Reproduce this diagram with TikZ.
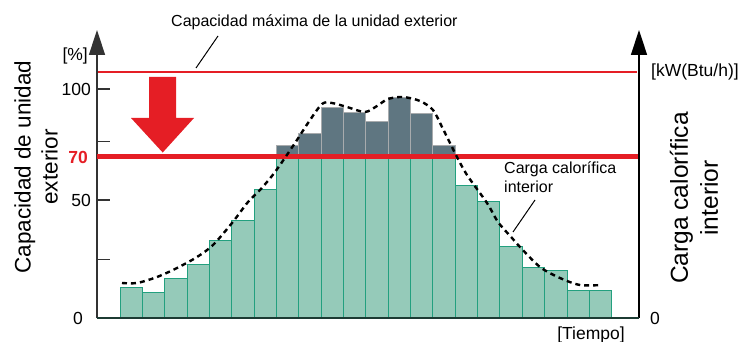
\documentclass[tikz,border=0pt]{standalone}
\usepackage{fontspec}
\setmainfont{Liberation Sans}
\usetikzlibrary{arrows.meta}
\definecolor{barg}{HTML}{95CAB9}
\definecolor{bare}{HTML}{23A07F}
\definecolor{grayb}{HTML}{5F7681}
\definecolor{graye}{HTML}{A8ABAD}
\definecolor{redl}{HTML}{E51E25}
\definecolor{axisd}{HTML}{333333}
\definecolor{baseaxis}{HTML}{1C3B33}
\begin{document}
\begin{tikzpicture}[x=1pt,y=-1pt,
  greenbar/.style={fill=barg,draw=bare,line width=1pt},
  graybar/.style={fill=grayb,draw=graye,line width=1pt},
  axisline/.style={line width=1.5pt},
  tickline/.style={line width=1.5pt,draw=axisd},
  small/.style={font=\fontsize{16}{19}\selectfont},
  ticklbl/.style={font=\fontsize{17.5}{20}\selectfont},
  leader/.style={line width=1pt,draw=black},
  curve/.style={line width=2.4pt,dash pattern=on 5pt off 4pt}]
\useasboundingbox (0,0) rectangle (744,342);
% bars
\foreach \t [count=\i from 0] in {287.7,292.7,278,264.7,240.7,220.7,189,145.7,133.3,107.3,112.7,122,97.7,114,145.7,185.3,201.7,246.7,267.3,270,290,290}{
  \pgfmathsetmacro{\xl}{120+\i*22.35}
  \pgfmathsetmacro{\xr}{120+(\i+1)*22.35}
  \pgfmathparse{\t<156 ? 1 : 0}
  \ifnum\pgfmathresult=1
    \draw[greenbar] (\xl,318) rectangle (\xr,156);
    \draw[graybar] (\xl,156) rectangle (\xr,\t);
  \else
    \draw[greenbar] (\xl,318) rectangle (\xr,\t);
  \fi
}
% axes
\coordinate (o) at (97,318);
\coordinate (ytop) at (97,30);
\coordinate (r0) at (639,318);
\coordinate (rtop) at (639,30);
\draw[axisline,draw=axisd,-{Triangle[length=25pt,width=16pt]}] (o) -- (ytop);
\draw[axisline,draw=black,-{Triangle[length=25pt,width=16pt]}] (r0) -- (rtop);
\draw[line width=2pt,draw=baseaxis] (o) -- (r0);
% ticks
\foreach \yy in {89,141.7,200,259.3}{
  \draw[tickline] (97,\yy) -- (110,\yy);
}
% red lines
\coordinate (maxl) at (98,70.7);
\coordinate (maxr) at (637,72.7);
\fill[fill=redl] (maxl) rectangle (maxr);
\coordinate (l70) at (97,156);
\coordinate (r70) at (638,156);
\draw[draw=redl,line width=5pt] (l70) -- (r70);
% big arrow
\fill[fill=redl] (149,77) -- (176,77) -- (176,118) -- (194,118) -- (162.7,152.5) -- (131,118) -- (149,118) -- cycle;
% dashed curve
\draw[curve] plot[smooth,tension=0.5] coordinates {(122,283) (137,283) (157,277) (177,268) (197,257) (213,245) (232,223) (248,202) (260,190) (275,172) (295,143) (308,123) (322,104) (332,103) (347,107) (365,112) (377,106) (388,99) (403,97) (420,101) (433,110) (442,127) (450,143) (457,157) (467,175) (487,203) (498,222) (512,238) (520,247) (540,267) (560,278) (580,285) (602,285)};
% labels
\node[small,anchor=base west,inner sep=0] (maxcap) at (171,27) {Capacidad máxima de la unidad exterior};
\coordinate (maxa) at (218,36);
\coordinate (maxb) at (196,68);
\draw[leader] (maxa) -- (maxb);
\node[small,anchor=north west,align=left,inner sep=0] (carga) at (504,162) {Carga calorífica\\interior};
\coordinate (ca) at (535,200);
\coordinate (cb) at (513,232);
\draw[leader] (ca) -- (cb);
\node[ticklbl,anchor=east,inner sep=0] (pct) at (88,56) {[\%]};
\node[ticklbl,anchor=east,inner sep=0] (t100) at (91,89) {100};
\node[ticklbl,anchor=east,inner sep=0] (t50) at (91,200) {50};
\node[ticklbl,anchor=east,inner sep=0] (t0) at (83,318) {0};
\node[ticklbl,anchor=east,inner sep=0,text=redl,font=\fontsize{17.5}{20}\selectfont\bfseries] (t70) at (88,157) {70};
\node[ticklbl,anchor=west,inner sep=0] (kw) at (651,72) {[kW(Btu/h)]};
\node[ticklbl,anchor=west,inner sep=0] (r0lbl) at (650,318) {0};
\node[ticklbl,inner sep=0] (tiempo) at (591,335) {[Tiempo]};
\node[inner sep=0,align=center,rotate=90,font=\fontsize{22.5}{27}\selectfont] (leftlbl) at (36,167) {Capacidad de unidad\\exterior};
\node[inner sep=0,align=center,rotate=90,font=\fontsize{24.5}{30}\selectfont] (rightlbl) at (694,198) {Carga calorífica\\interior};
\end{tikzpicture}
\end{document}
